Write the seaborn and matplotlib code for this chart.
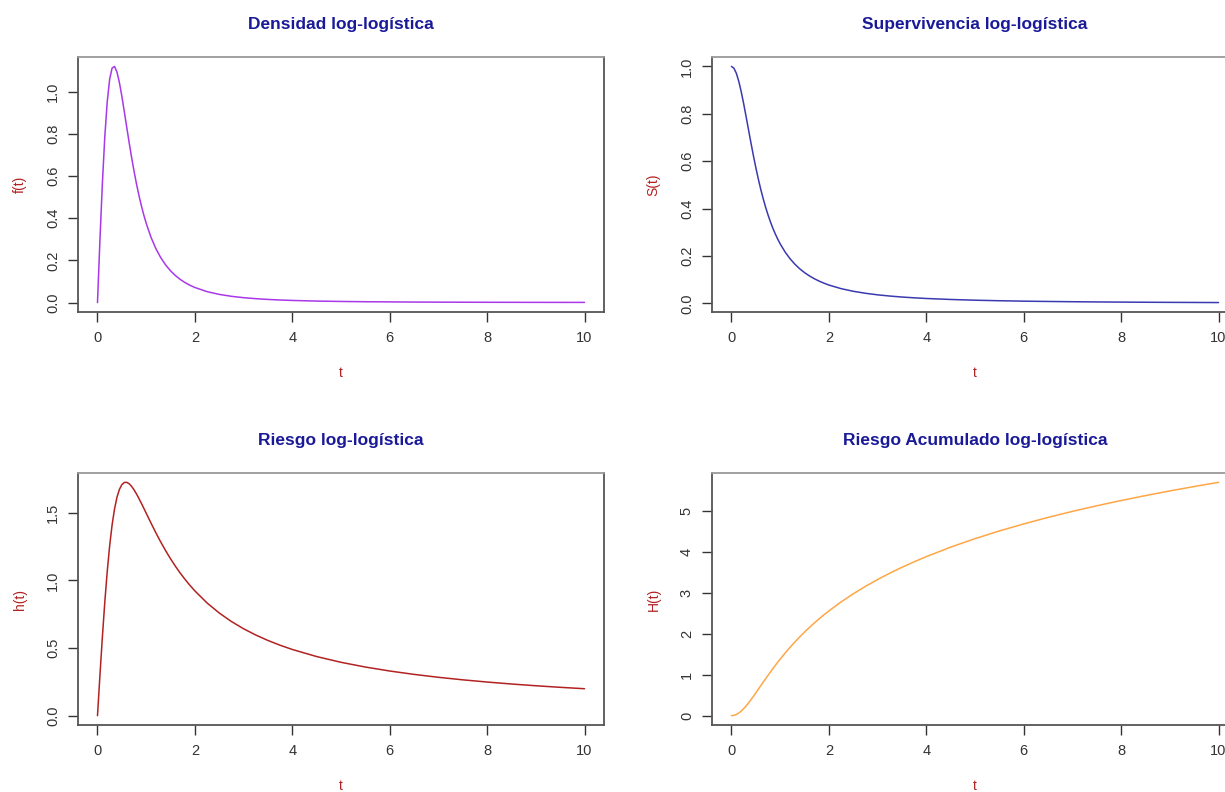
import matplotlib
matplotlib.use("Agg")
import matplotlib.pyplot as plt
import seaborn as sns
import pandas as pd

# ---- data ----
t_vals = [0, 0.05, 0.1, 0.15, 0.2, 0.25, 0.3, 0.35, 0.4, 0.45, 0.5, 0.55, 0.6,
          0.65, 0.7, 0.75, 0.8, 0.85, 0.9, 0.95, 1.0, 1.1, 1.2, 1.3, 1.4, 1.5,
          1.6, 1.7, 1.8, 1.9, 2.0, 2.25, 2.5, 2.75, 3.0, 3.25, 3.5, 3.75,
          4.0, 4.5, 5.0, 5.5, 6.0, 6.5, 7.0, 7.5, 8.0, 8.5, 9.0, 9.5, 10.0]
density = [0.0, 0.2938, 0.5624, 0.7858, 0.9522, 1.0595, 1.1123, 1.1199, 1.0935,
           1.0434, 0.9788, 0.9067, 0.8323, 0.7591, 0.6892, 0.6240, 0.5640,
           0.5094, 0.4601, 0.4158, 0.3761, 0.3089, 0.2553, 0.2125, 0.1782,
           0.1505, 0.1280, 0.1096, 0.0944, 0.0819, 0.0714, 0.0518, 0.0387,
           0.0296, 0.0231, 0.0184, 0.0148, 0.0121, 0.0100, 0.0071, 0.0052,
           0.0039, 0.0031, 0.0024, 0.0019, 0.0016, 0.0013, 0.0011, 0.0009,
           0.0008, 0.0007]
survival = [1.0, 0.9926, 0.9710, 0.9371, 0.8934, 0.8429, 0.7884, 0.7324, 0.6770,
            0.6235, 0.5729, 0.5257, 0.4822, 0.4425, 0.4063, 0.3735, 0.3438,
            0.3170, 0.2928, 0.2709, 0.2511, 0.2170, 0.1889, 0.1656, 0.1461,
            0.1297, 0.1158, 0.1040, 0.0938, 0.0850, 0.0773, 0.0621, 0.0509,
            0.0425, 0.0359, 0.0308, 0.0266, 0.0233, 0.0205, 0.0163, 0.0132,
            0.0110, 0.0092, 0.0079, 0.0068, 0.0059, 0.0052, 0.0046, 0.0041,
            0.0037, 0.0033]
hazard = [0.0, 0.2960, 0.5792, 0.8385, 1.0658, 1.2569, 1.4108, 1.5291, 1.6152,
          1.6735, 1.7086, 1.7247, 1.7259, 1.7155, 1.6964, 1.6707, 1.6405,
          1.6071, 1.5717, 1.5350, 1.4978, 1.4237, 1.3519, 1.2838, 1.2199,
          1.1604, 1.1052, 1.0542, 1.0069, 0.9632, 0.9227, 0.8337, 0.7593,
          0.6964, 0.6427, 0.5965, 0.5562, 0.5209, 0.4897, 0.4372, 0.3947,
          0.3597, 0.3303, 0.3053, 0.2838, 0.2651, 0.2487, 0.2342, 0.2213,
          0.2097, 0.1993]
cum_hazard = [0.0, 0.0074, 0.0294, 0.0650, 0.1127, 0.1709, 0.2377, 0.3114,
              0.3902, 0.4725, 0.5571, 0.6430, 0.7293, 0.8154, 0.9007, 0.9850,
              1.0677, 1.1489, 1.2284, 1.3061, 1.3819, 1.5280, 1.6667, 1.7985,
              1.9236, 2.0426, 2.1558, 2.2638, 2.3668, 2.4653, 2.5595, 2.7788,
              2.9776, 3.1594, 3.3266, 3.4813, 3.6253, 3.7598, 3.8861, 4.1173,
              4.3250, 4.5133, 4.6855, 4.8443, 4.9914, 5.1285, 5.2569, 5.3776,
              5.4913, 5.5990, 5.7013]

titles = ["Densidad log-logística", "Supervivencia log-logística",
          "Riesgo log-logística", "Riesgo Acumulado log-logística"]
ylabels = ["f(t)", "S(t)", "h(t)", "H(t)"]
xlabel = "t"
x_ticks = [0, 2, 4, 6, 8, 10]
y_ticks = [[0.0, 0.2, 0.4, 0.6, 0.8, 1.0],
           [0.0, 0.2, 0.4, 0.6, 0.8, 1.0],
           [0.0, 0.5, 1.0, 1.5],
           [0, 1, 2, 3, 4, 5]]
y_ticklabels = [["0.0", "0.2", "0.4", "0.6", "0.8", "1.0"],
                ["0.0", "0.2", "0.4", "0.6", "0.8", "1.0"],
                ["0.0", "0.5", "1.0", "1.5"],
                ["0", "1", "2", "3", "4", "5"]]
colors = ["#A838E8", "#3a3ab0", "#b22222", "#FFA646"]

series = [density, survival, hazard, cum_hazard]

sns.set_theme(style="ticks")
plt.rcParams['font.family'] = ['Liberation Sans', 'DejaVu Sans']

W, H = 1225, 792
fig = plt.figure(figsize=(W / 100, H / 100), dpi=100)
fig.patch.set_facecolor("white")

# axes boxes in pixels: (left, top, right, bottom)
boxes = [(78, 57, 604, 312), (712, 57, 1238, 312),
         (78, 473, 604, 725), (712, 473, 1238, 725)]

for i, (l, tp, r, b) in enumerate(boxes):
    ax = fig.add_axes([l / W, 1 - b / H, (r - l) / W, (b - tp) / H])
    df = pd.DataFrame({"t": t_vals, "y": series[i]})
    sns.lineplot(data=df, x="t", y="y", ax=ax, color=colors[i], linewidth=1.1)
    ymin, ymax = min(series[i]), max(series[i])
    pad = 0.04 * (ymax - ymin)
    ax.set_ylim(ymin - pad, ymax + pad)
    ax.set_xlim(-0.4, 10.4)
    ax.set_xticks(x_ticks)
    ax.set_xticklabels([str(v) for v in x_ticks])
    ax.set_yticks(y_ticks[i])
    ax.set_yticklabels(y_ticklabels[i], rotation=90, va="center")
    ax.tick_params(axis="both", direction="out", length=7, width=1.0,
                   colors="#333333", labelsize=10.5, pad=6)
    ax.tick_params(axis="x", pad=7)
    for sp in ax.spines.values():
        sp.set_visible(True)
        sp.set_color("#555555")
        sp.set_linewidth(1.3)
    ax.spines["top"].set_color("#9a9a9a")
    ax.set_facecolor("white")
    ax.set_title(titles[i], color="#1a1a99", fontsize=12.5, fontweight="bold",
                 pad=20)
    ax.set_xlabel(xlabel, color="#b22222", fontsize=10, labelpad=15)
    ax.set_ylabel(ylabels[i], color="#b22222", fontsize=10, labelpad=14)
    ax.grid(False)

fig.savefig("out.png", dpi=100, facecolor="white")
